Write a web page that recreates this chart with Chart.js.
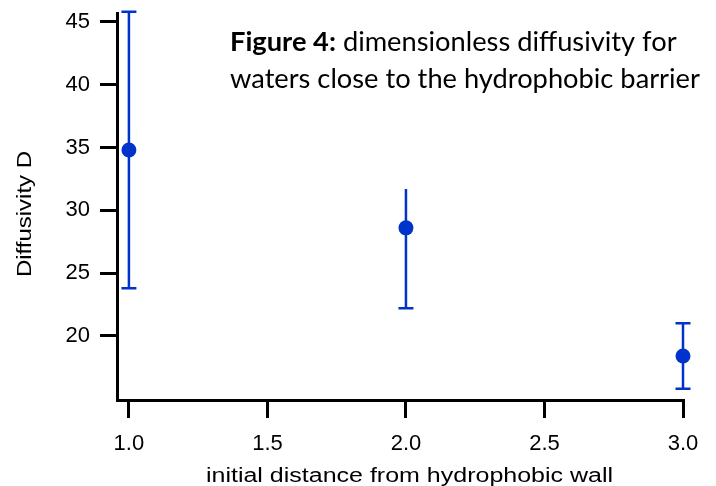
<!DOCTYPE html>
<html>
<head>
<meta charset="utf-8">
<script src="https://cdn.jsdelivr.net/npm/chart.js@4/dist/chart.umd.min.js"></script>
<style>
  html, body { margin: 0; padding: 0; background: #ffffff; }
  #wrap { width: 716px; height: 486px; position: relative; }
</style>
</head>
<body>
<div id="wrap"><canvas id="c" width="716" height="486"></canvas></div>
<script>
// ---- data ----
const distances = [1.0, 2.0, 3.0];
const diffusivity = [34.8, 28.6, 18.4];
const errHigh = [45.8, 31.7, 21.0];
const errLow = [23.8, 22.2, 15.8];
const capOnHigh = [true, false, true];
const capOnLow = [true, true, true];
const xTicks = [1.0, 1.5, 2.0, 2.5, 3.0];
const xTickLabels = ['1.0', '1.5', '2.0', '2.5', '3.0'];
const yTicks = [20, 25, 30, 35, 40, 45];
const yTickLabels = ['20', '25', '30', '35', '40', '45'];
const xTitle = 'initial distance from hydrophobic wall';
const yTitle = 'Diffusivity D';
const noteBold = 'Figure 4:';
const noteLine1 = ' dimensionless diffusivity for';
const noteLine2 = 'waters close to the hydrophobic barrier';

const BLUE = '#0033cc';
const SANS = '"Liberation Sans", Arial, sans-serif';

const errorBars = {
  id: 'errorBars',
  beforeDatasetsDraw(chart) {
    const ctx = chart.ctx;
    const xs = chart.scales.x, ys = chart.scales.y;
    ctx.save();
    ctx.strokeStyle = BLUE;
    ctx.lineWidth = 2.5;
    const half = 7.5;
    for (let i = 0; i < distances.length; i++) {
      const px = xs.getPixelForValue(distances[i]);
      const hi = ys.getPixelForValue(errHigh[i]);
      const lo = ys.getPixelForValue(errLow[i]);
      ctx.beginPath();
      ctx.moveTo(px, hi);
      ctx.lineTo(px, lo);
      if (capOnHigh[i]) { ctx.moveTo(px - half, hi); ctx.lineTo(px + half, hi); }
      if (capOnLow[i]) { ctx.moveTo(px - half, lo); ctx.lineTo(px + half, lo); }
      ctx.stroke();
    }
    ctx.restore();
  }
};

// axis titles and the figure note, drawn as canvas text
const texts = {
  id: 'texts',
  afterDraw(chart) {
    const ctx = chart.ctx;
    const area = chart.chartArea;
    ctx.save();
    ctx.fillStyle = '#000';

    // x axis title (wide lettering as in the reference)
    ctx.font = '20px ' + SANS;
    ctx.textAlign = 'center';
    ctx.textBaseline = 'alphabetic';
    ctx.save();
    ctx.translate((area.left + area.right) / 2 + 9.5, 482);
    ctx.scale(1.25, 1);
    ctx.fillText(xTitle, 0, 0);
    ctx.restore();

    // y axis title
    ctx.save();
    ctx.font = '20px ' + SANS;
    ctx.translate(31, (area.top + area.bottom) / 2 + 7.5);
    ctx.rotate(-Math.PI / 2);
    ctx.scale(1.2, 1);
    ctx.textAlign = 'center';
    ctx.textBaseline = 'alphabetic';
    ctx.fillText(yTitle, 0, 0);
    ctx.restore();

    // note
    ctx.textAlign = 'left';
    ctx.textBaseline = 'alphabetic';
    const fam = 'Lato, "Open Sans", sans-serif';
    ctx.font = '20px ' + fam;
    const w = ctx.measureText(noteLine2).width;
    const size = 20 * 470 / w;
    const x0 = 230;
    ctx.font = 'bold ' + size + 'px ' + fam;
    ctx.fillText(noteBold, x0, 51);
    const bw = ctx.measureText(noteBold).width;
    ctx.font = size + 'px ' + fam;
    ctx.fillText(noteLine1, x0 + bw, 51);
    ctx.fillText(noteLine2, x0, 87.5);
    ctx.restore();
  }
};

const tickFont = { family: SANS, size: 22 };

new Chart(document.getElementById('c'), {
  type: 'scatter',
  data: {
    datasets: [{
      label: 'Diffusivity D',
      data: distances.map((d, i) => ({ x: d, y: diffusivity[i] })),
      backgroundColor: BLUE,
      borderColor: BLUE,
      pointRadius: 7.5,
      pointHoverRadius: 7.5,
      borderWidth: 0,
      clip: false
    }]
  },
  options: {
    responsive: false,
    animation: false,
    events: [],
    layout: { padding: { top: 13, right: 33, left: 0, bottom: 0 } },
    plugins: { legend: { display: false }, tooltip: { enabled: false } },
    scales: {
      x: {
        type: 'linear',
        min: 0.957,
        max: 3.0,
        afterBuildTicks(s) { s.ticks = xTicks.map(v => ({ value: v })); },
        afterFit(s) { s.height = 86; s.paddingLeft = 0; s.paddingRight = 0; s.paddingTop = 0; s.paddingBottom = 0; },
        ticks: {
          color: '#000',
          font: tickFont,
          padding: 13,
          maxRotation: 0,
          autoSkip: false,
          callback(v) { const i = xTicks.indexOf(v); return i >= 0 ? xTickLabels[i] : ''; }
        },
        grid: { drawOnChartArea: false, drawTicks: true, tickLength: 18, tickColor: '#000', tickWidth: 3, lineWidth: 3 },
        border: { display: true, color: '#000', width: 3 },
        title: { display: false, text: xTitle }
      },
      y: {
        type: 'linear',
        min: 14.9,
        max: 45.7,
        afterBuildTicks(s) { s.ticks = yTicks.map(v => ({ value: v })); },
        afterFit(s) { s.width = 117; s.paddingLeft = 0; s.paddingRight = 0; s.paddingTop = 0; s.paddingBottom = 0; },
        ticks: {
          color: '#000',
          font: tickFont,
          padding: 10,
          autoSkip: false,
          callback(v) { const i = yTicks.indexOf(v); return i >= 0 ? yTickLabels[i] : ''; }
        },
        grid: { drawOnChartArea: false, drawTicks: true, tickLength: 17, tickColor: '#000', tickWidth: 3, lineWidth: 3 },
        border: { display: true, color: '#000', width: 3 },
        title: { display: false, text: yTitle }
      }
    }
  },
  plugins: [errorBars, texts]
});
</script>
</body>
</html>
